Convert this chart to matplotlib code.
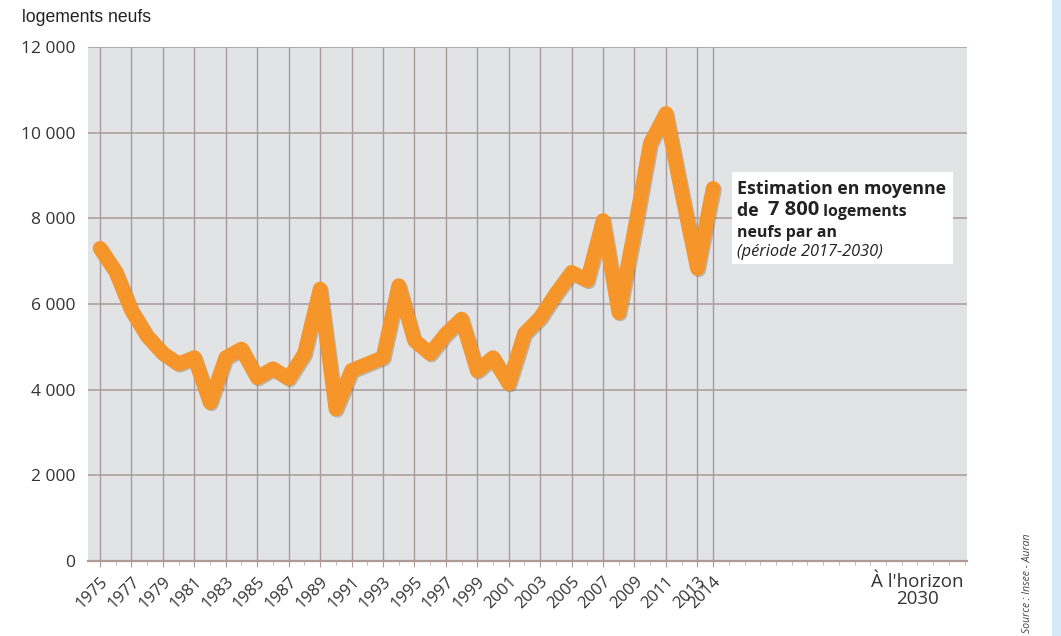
import numpy as np
import matplotlib
matplotlib.use("Agg")
import matplotlib.pyplot as plt
import matplotlib.patheffects as pe
from matplotlib.patches import Rectangle

# data
years = list(range(1975, 2015))
logements = [7300, 6750, 5850, 5250, 4850, 4600, 4750, 3700, 4750, 4950,
             4280, 4490, 4260, 4840, 6350, 3550, 4450, 4600, 4750, 6430,
             5150, 4840, 5300, 5650, 4440, 4750, 4140, 5310, 5680, 6240,
             6740, 6550, 7950, 5800, 7720, 9750, 10450, 8600, 6830, 8700]
tick_years = list(range(1975, 2014, 2)) + [2014]
y_ticks = [0, 2000, 4000, 6000, 8000, 10000, 12000]

W, H = 1061, 636
fig = plt.figure(figsize=(W / 100, H / 100), dpi=100)
fig.patch.set_facecolor("white")

# plot area (pixel box of the reference)
left, right, top, bottom = 88, 967, 47, 561
ax = fig.add_axes([left / W, 1 - bottom / H, (right - left) / W, (bottom - top) / H])
ax.set_facecolor("#e2e3e5")

px_per_year = 15.72
x0 = 1975 - (100 - left) / px_per_year
x1 = 1975 + (right - 100) / px_per_year
ax.set_xlim(x0, x1)
ax.set_ylim(0, 12000)

grid_col = "#a99b9a"
for y in y_ticks[1:]:
    ax.axhline(y, color=grid_col, lw=1.1, zorder=1)
for x in tick_years:
    ax.axvline(x, color=grid_col, lw=1.0, zorder=1)

ax.plot(years, logements, color="#f5952a", lw=10.5, solid_joinstyle="round",
        solid_capstyle="round", zorder=3,
        path_effects=[pe.SimpleLineShadow(offset=(1, -1), shadow_color="#7a5a30", alpha=0.35),
                      pe.Normal()])

for s in ["top", "right", "left"]:
    ax.spines[s].set_visible(False)
ax.spines["bottom"].set_color("#b09a96")
ax.spines["bottom"].set_linewidth(1.6)

ax.set_yticks(y_ticks)
ax.set_yticklabels([f"{v:,}".replace(",", " ") for v in y_ticks],
                   fontsize=12.5, color="#333333", family="Open Sans")
ax.tick_params(axis="y", length=0, pad=9)

ax.set_xticks(tick_years)
ax.set_xticklabels([str(y) for y in tick_years], rotation=45, ha="right",
                   rotation_mode="anchor", fontsize=12, color="#333333",
                   family="Open Sans")
ax.set_xticks(range(1975, 2031), minor=True)
ax.tick_params(axis="x", which="major", length=4, color="#b09a96", pad=5)
ax.tick_params(axis="x", which="minor", length=3, color="#c0aeaa")

ax.text(2027.0, -270, "À l'horizon\n2030", ha="center", va="top",
        fontsize=13.5, color="#333333", family="Open Sans", linespacing=0.95)

fig.text(22 / W, 1 - 17 / H, "logements neufs", fontsize=12.7, color="#222222",
         family="Liberation Sans", va="center", ha="left")

# annotation box (inside the axes so texts sit above it)
ax.add_patch(Rectangle((732 / W, 1 - 264 / H), (953 - 732) / W, (264 - 172) / H,
                       transform=fig.transFigure, facecolor="white",
                       edgecolor="none", zorder=5, clip_on=False))
tx = 737 / W
txt = dict(color="#222222", family="Open Sans", va="baseline", zorder=6,
           transform=fig.transFigure)
ax.text(tx, 1 - 194 / H, "Estimation en moyenne", fontsize=12.8, fontweight="bold", **txt)
t1 = ax.text(tx, 1 - 216 / H, "de  ", fontsize=12.8, fontweight="bold", **txt)
t2 = ax.annotate("7 800", xy=(1, 0), xycoords=t1, va="bottom", ha="left",
                 fontsize=14.5, fontweight="bold", color="#222222",
                 family="Open Sans", zorder=6, annotation_clip=False)
ax.annotate(" logements", xy=(1, 0), xycoords=t2, va="bottom", ha="left",
            fontsize=11.4, fontweight="bold", color="#222222",
            family="Open Sans", zorder=6, annotation_clip=False)
ax.text(tx, 1 - 237 / H, "neufs par an", fontsize=11.4, fontweight="bold", **txt)
ax.text(tx, 1 - 256 / H, "(période 2017-2030)", fontsize=11.8, style="italic", **txt)

# source and side strip
fig.text(1027 / W, 1 - 633 / H, "Source : Insee - Auran", rotation=90, fontsize=7.5,
         style="italic", color="#444444", family="Open Sans", ha="center", va="bottom")
fig.patches.append(Rectangle((1052 / W, 0), 1 - 1052 / W, 1, transform=fig.transFigure,
                             facecolor="#d5e9f9", edgecolor="none"))

fig.savefig("out.png", dpi=100)
